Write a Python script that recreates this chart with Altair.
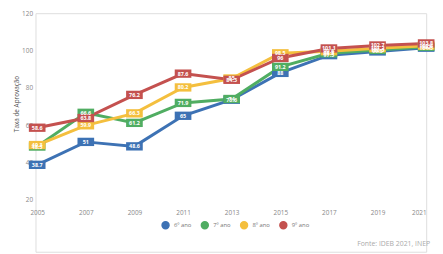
import altair as alt
import pandas as pd

years = [2005, 2007, 2009, 2011, 2013, 2015, 2017, 2019, 2021]
series = ["6º ano", "7º ano", "8º ano", "9º ano"]
ano6 = [38.7, 51, 48.6, 65, 73.6, 88, 97.5, 99.5, 101.5]
ano7 = [48.5, 66.6, 61.2, 71.9, 74, 91.2, 98.5, 100.3, 102.0]
ano8 = [49.3, 59.9, 66.3, 80.2, 85.0, 98.5, 99.6, 101.2, 102.6]
ano9 = [58.6, 63.8, 76.2, 87.6, 84.3, 96, 101.1, 102.7, 103.8]
colors = ["#3d72b4", "#50ad62", "#f4bf3e", "#c4514f"]
y_ticks = [20, 40, 60, 80, 100, 120]
source_note = "Fonte: IDEB 2021, INEP"


def fmt(v):
    return str(int(v)) if float(v).is_integer() else f"{v:.1f}"


rows = []
for s, vals in zip(series, [ano6, ano7, ano8, ano9]):
    for yr, v in zip(years, vals):
        rows.append({"ano": yr, "serie": s, "taxa": v, "label": fmt(v)})
df = pd.DataFrame(rows)

x = alt.X("ano:Q",
          scale=alt.Scale(domain=[2004.93, 2021.0], nice=False, zero=False),
          axis=alt.Axis(values=years, format="d", title=None, domain=False, ticks=False,
                        grid=False, labelFontSize=6.5, labelColor="#888888",
                        labelPadding=12, offset=-55))
y = alt.Y("taxa:Q",
          scale=alt.Scale(domain=[-7.9, 120], nice=False, zero=False),
          axis=alt.Axis(values=y_ticks, title="Taxa de Aprovação", domain=False, ticks=False,
                        grid=False, labelFontSize=6.5, labelColor="#888888",
                        labelPadding=3, titleFontSize=6.5, titleColor="#555555",
                        titleFontWeight="normal", titlePadding=2, titleY=92))
cscale = alt.Scale(domain=series, range=colors)

base = alt.Chart(df)

lines = base.mark_line(strokeWidth=3).encode(
    x=x, y=y,
    color=alt.Color("serie:N", scale=cscale,
                    legend=alt.Legend(orient="none", legendX=128, legendY=211,
                                      direction="horizontal", title=None,
                                      symbolType="circle", symbolSize=50,
                                      labelFontSize=6, labelColor="#777777",
                                      columnPadding=6)))
boxes = base.mark_point(shape="M-2,-1H2V1H-2Z", filled=True, size=72, opacity=1).encode(
    x=x, y=y, color=alt.Color("serie:N", scale=cscale))
texts = base.mark_text(color="white", fontSize=5.5, fontWeight="bold").encode(
    x=x, y=y, text="label:N")
note = alt.Chart(pd.DataFrame({"t": [source_note]})).mark_text(
    align="right", baseline="middle", fontSize=7, color="#aaaaaa").encode(
    x=alt.value(402), y=alt.value(235), text="t:N")

chart = alt.layer(lines, boxes, texts, note).properties(
    width=435, height=246,
    autosize=alt.AutoSizeParams(type="fit", contains="padding"),
    padding={"left": 5, "top": 0, "right": 0, "bottom": 0},
).configure_view(stroke=None).configure(font="Open Sans")

chart.save("out.html", embed_options={"renderer": "svg", "actions": False})
